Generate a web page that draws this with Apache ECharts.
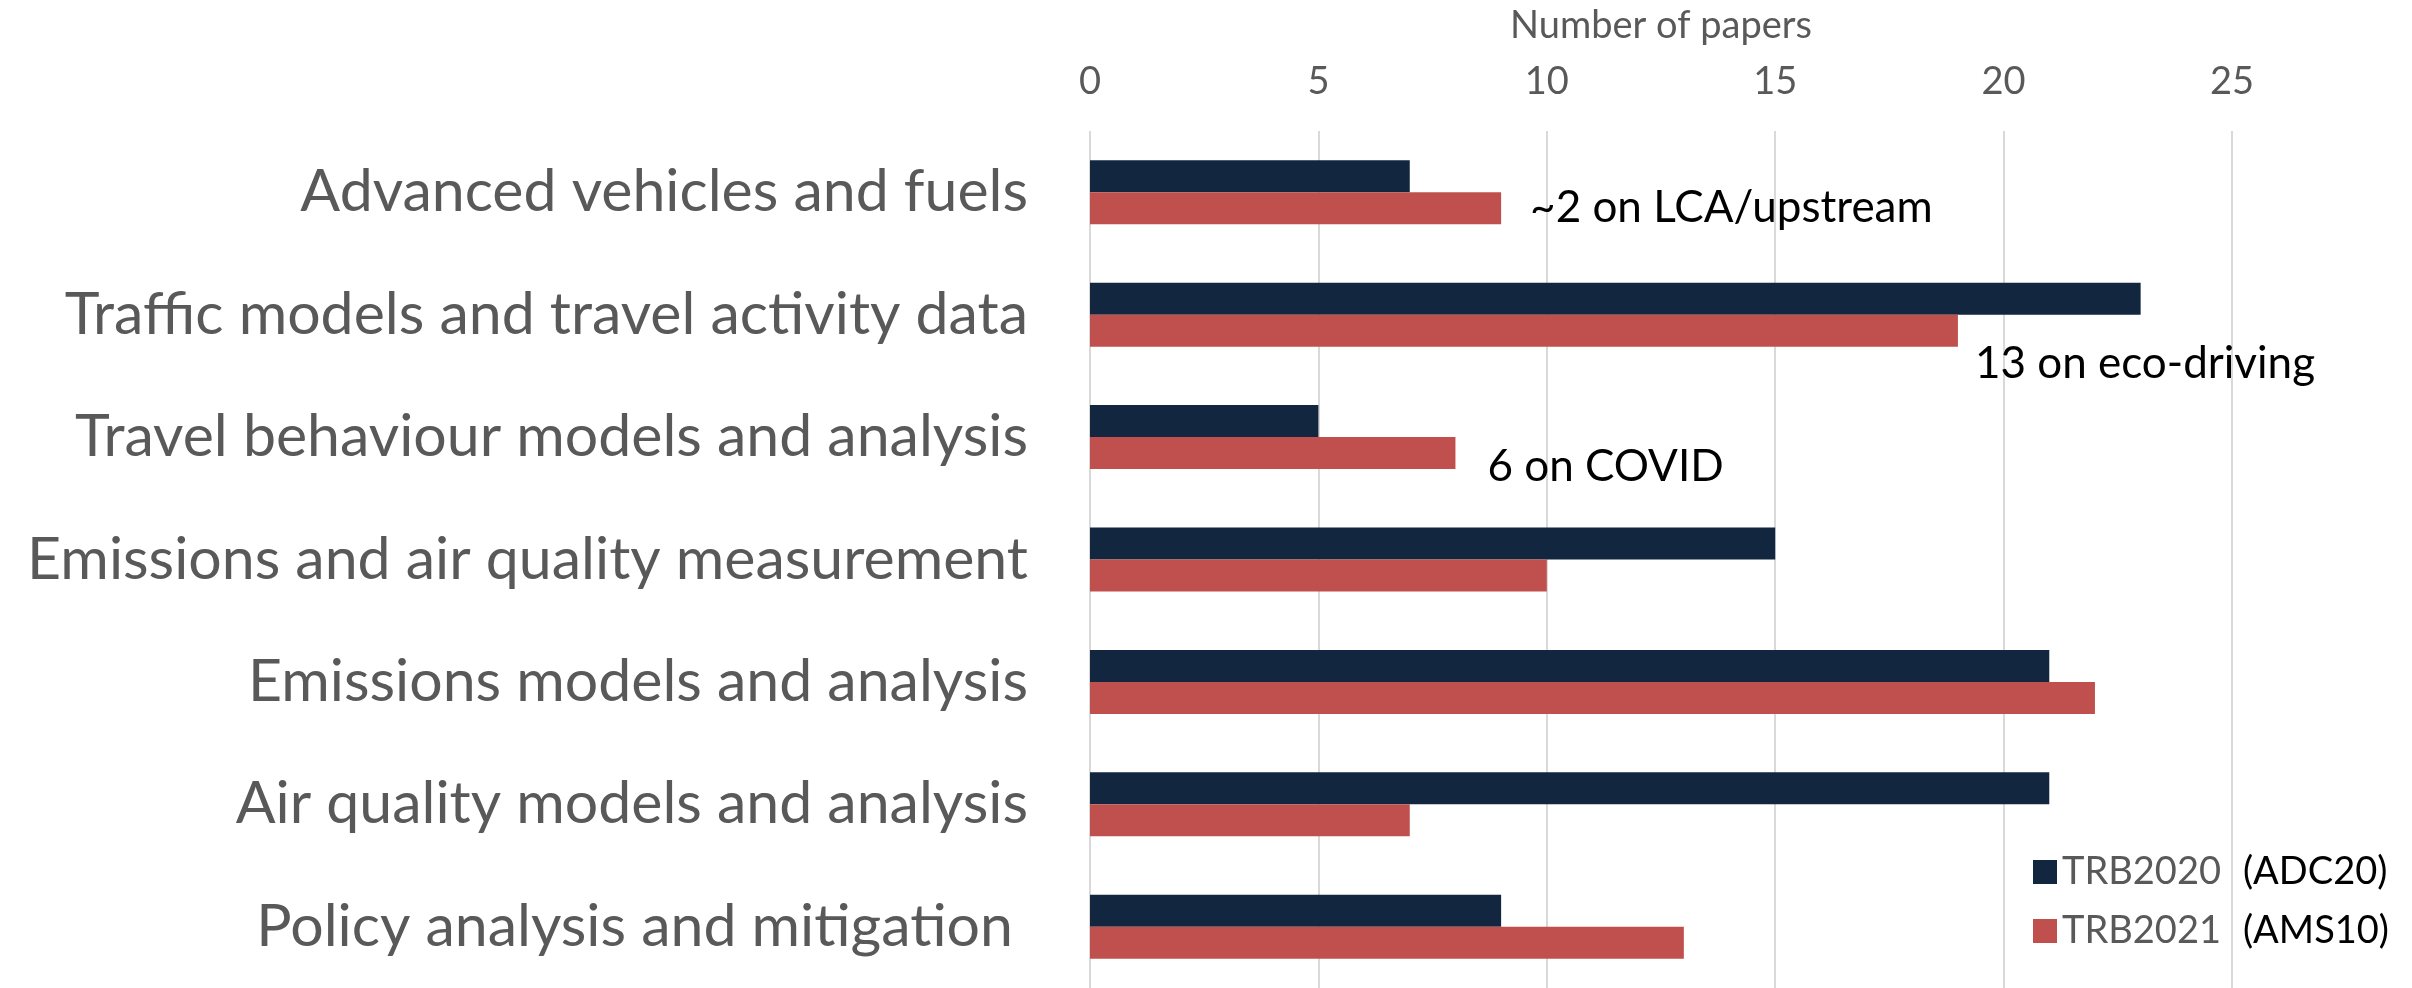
<!DOCTYPE html>
<html>
<head>
<meta charset="utf-8">
<script src="https://cdn.jsdelivr.net/npm/echarts@6/dist/echarts.min.js"></script>
<style>
  html, body { margin: 0; padding: 0; background: #fff; }
  #chart { width: 2412px; height: 988px; }
</style>
</head>
<body>
<div id="chart"></div>
<script>
const categories = [
  'Advanced vehicles and fuels',
  'Traffic models and travel activity data',
  'Travel behaviour models and analysis',
  'Emissions and air quality measurement',
  'Emissions models and analysis',
  'Air quality models and analysis',
  'Policy analysis and mitigation ',
]
const trb2020 = [7, 23, 5, 15, 21, 21, 9]
const trb2021 = [9, 19, 8, 10, 22, 7, 13]
const notes2021 = ['~2 on LCA/upstream', '13 on eco-driving', '6 on COVID', '', '', '', '']
const seriesNames = ['TRB2020', 'TRB2021']
const committees = ['(ADC20)', '(AMS10)']
const xTicks = [0, 5, 10, 15, 20, 25]

const font = 'Lato'
const navy = '#13263f'
const red = '#c0504d'
const gray = '#595959'

// where the annotation text boxes sit relative to the bar end
const noteOffsets = [[29, 0], [17, 33], [32, 14]]

const myChart = echarts.init(document.getElementById('chart'))

const redData = trb2021.map((v, i) => {
  if (!notes2021[i]) return v
  return {
    value: v,
    label: {
      show: true,
      position: 'right',
      distance: 0,
      offset: noteOffsets[i],
      formatter: notes2021[i],
      fontFamily: font,
      fontSize: 44,
      color: '#000',
    },
  }
})

const option = {
  animation: false,
  textStyle: { fontFamily: font },
  grid: {
    left: 1090,
    right: 180,
    top: 131,
    bottom: -3,
  },
  legend: {
    orient: 'vertical',
    left: 2028,
    top: 848,
    itemWidth: 24,
    itemHeight: 24,
    itemGap: 21,
    icon: 'rect',
    data: seriesNames,
    formatter: name => '{a|' + name + '}{b|' + committees[seriesNames.indexOf(name)] + '}',
    textStyle: {
      rich: {
        a: { fontFamily: font, fontSize: 38, color: gray, lineHeight: 44 },
        b: { fontFamily: font, fontSize: 38, color: '#000', lineHeight: 44, padding: [0, 0, 0, 22] },
      },
    },
  },
  xAxis: {
    type: 'value',
    position: 'top',
    min: xTicks[0],
    max: xTicks[xTicks.length - 1],
    interval: xTicks[1] - xTicks[0],
    name: 'Number of papers',
    nameLocation: 'middle',
    nameGap: 86,
    nameTextStyle: { fontFamily: font, fontSize: 38, color: gray },
    axisLine: { show: false },
    axisTick: { show: false },
    axisLabel: { fontFamily: font, fontSize: 38, color: gray, margin: 30 },
    splitLine: { lineStyle: { color: '#d9d9d9', width: 2 } },
  },
  yAxis: {
    type: 'category',
    inverse: true,
    data: categories,
    axisLine: { show: false },
    axisTick: { show: false },
    axisLabel: { fontFamily: font, fontSize: 59, color: gray, margin: 62 },
  },
  series: [
    {
      name: seriesNames[0],
      type: 'bar',
      data: trb2020,
      barWidth: 32,
      barGap: '0%',
      itemStyle: { color: navy },
    },
    {
      name: seriesNames[1],
      type: 'bar',
      data: redData,
      barWidth: 32,
      barGap: '0%',
      itemStyle: { color: red },
    },
  ],
}

option && myChart.setOption(option)
</script>
</body>
</html>
